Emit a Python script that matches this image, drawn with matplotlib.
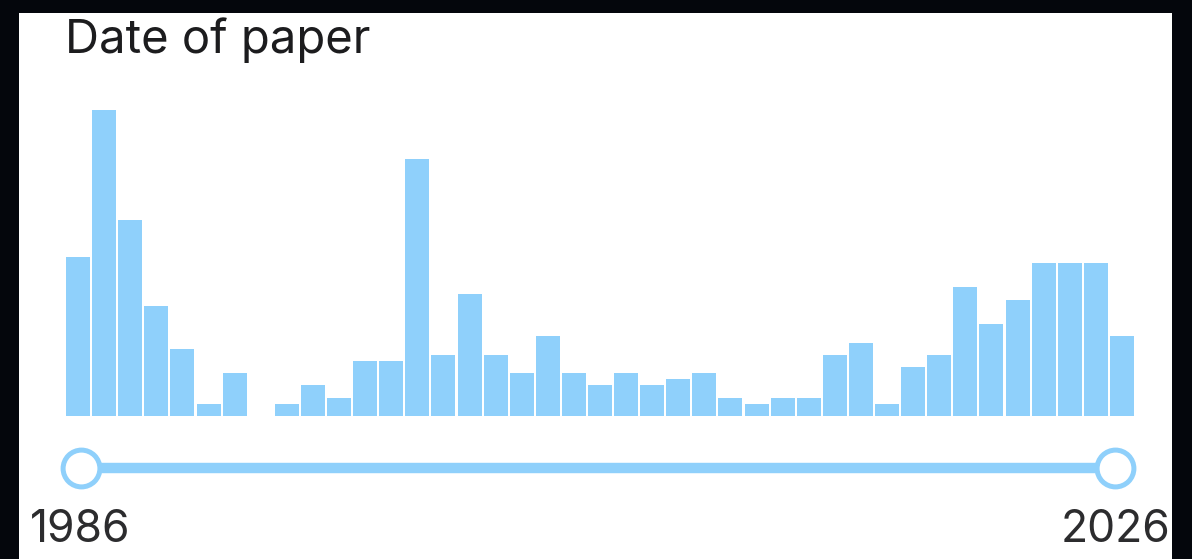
import matplotlib.pyplot as plt
import matplotlib.patches as patches

# data: papers per year
years = list(range(1986, 2027))
counts = [26, 50, 32, 18, 11, 2, 7, 0, 2, 5, 3, 9, 9, 42, 10, 20, 10, 7, 13, 7,
          5, 7, 5, 6, 7, 3, 2, 3, 3, 10, 12, 2, 8, 10, 21, 15, 19, 25, 25, 25, 13]
title = "Date of paper"
range_labels = [str(years[0]), str(years[-1])]

W, H = 1192, 559
blue = '#8fd0fb'
plt.rcParams['font.family'] = ['Inter', 'DejaVu Sans']

fig = plt.figure(figsize=(W / 100, H / 100), dpi=100)
fig.patch.set_facecolor('#04060c')

# white card behind everything
card = patches.Rectangle((19 / W, 0), (1172 - 19) / W, (H - 13) / H,
                         transform=fig.transFigure, facecolor='white',
                         edgecolor='none', zorder=-5)
fig.patches.append(card)

fig.text(65 / W, (H - 53) / H, title, fontsize=34, color='#1c1c1e',
         ha='left', va='baseline')

# histogram
ax = fig.add_axes([65 / W, (H - 416) / H, (1135 - 65) / W, 306 / H])
ax.bar(years, counts, width=0.92, color=blue, edgecolor='none')
ax.set_xlim(years[0] - 0.5, years[-1] + 0.5)
ax.set_ylim(0, 50)
ax.axis('off')

# range slider
sx = fig.add_axes([65 / W, (H - 490) / H, (1135 - 65) / W, 44 / H], sharex=ax)
sx.axis('off')
sx.set_ylim(-1, 1)
lo, hi = years[0] + 0.1, years[-1] - 0.25
sx.plot([lo, hi], [0, 0], color=blue, linewidth=7.5, solid_capstyle='butt', zorder=1)
sx.plot([lo, hi], [0, 0], linestyle='none', marker='o', markersize=26.5,
        markerfacecolor='white', markeredgecolor=blue, markeredgewidth=3.6,
        zorder=2, clip_on=False)

for x, lab in zip([lo, hi], range_labels):
    fig.text(ax.transData.transform((x, 0))[0] / W, (H - 541.5) / H, lab,
             fontsize=32, color='#2c2c2e', ha='center', va='baseline')

plt.savefig("out.png", dpi=100, facecolor=fig.get_facecolor())
